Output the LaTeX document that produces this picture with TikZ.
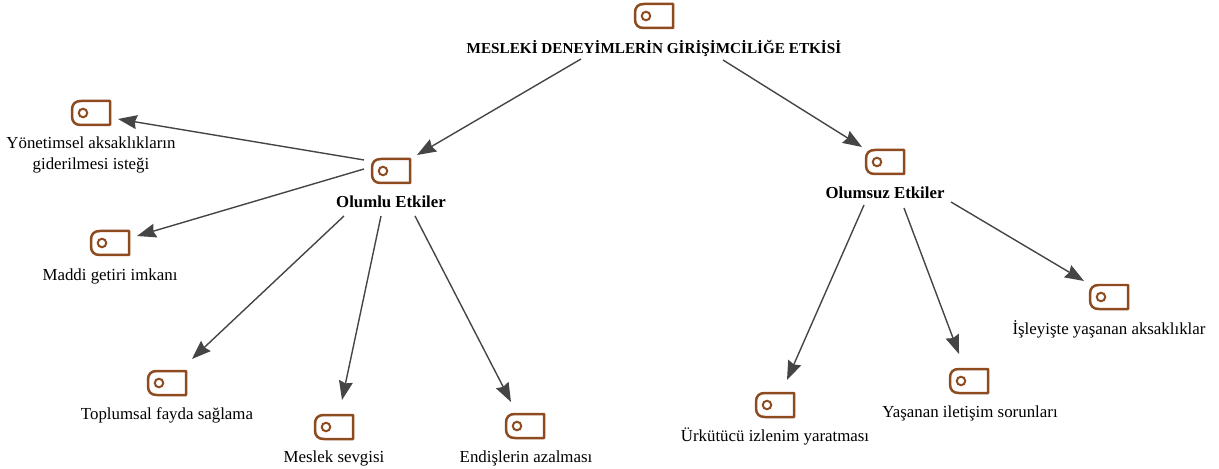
\documentclass[tikz,border=0pt]{standalone}
\usepackage{fontspec}
\setmainfont{Liberation Serif}
\usetikzlibrary{arrows.meta}
\definecolor{tagbrown}{HTML}{8E4B20}
\definecolor{linkgray}{HTML}{454545}

\begin{document}
\begin{tikzpicture}[
						x=0.02cm, y=-0.02cm,
						tagicon/.style={rectangle, minimum width=0.84cm, minimum height=0.56cm, inner sep=0pt,
							path picture={
								\begin{scope}[shift={(path picture bounding box.center)}, tagbrown]
								\draw[line width=0.05cm, line join=round]
									(-10,-12) -- (19,-12) -- (19,12) -- (-10,12)
									.. controls (-16,12) and (-19,9) .. (-19,3) -- (-19,-3)
									.. controls (-19,-9) and (-16,-12) .. (-10,-12) -- cycle;
								\draw[line width=0.04cm] (-8,0) circle (0.085cm);
								\end{scope}
							}},
						nodelabel/.style={rectangle, inner sep=0pt, align=center, font=\fontsize{9.6}{12}\selectfont},
						boldlabel/.style={nodelabel, font=\fontsize{9.55}{12}\selectfont\bfseries},
						rootlabel/.style={nodelabel, font=\fontsize{8.65}{12}\selectfont\bfseries},
						link/.style={draw=linkgray, line width=0.028cm, -{Stealth[length=0.38cm, width=0.28cm, inset=0.04cm]}}
					]
					\useasboundingbox (0,0) rectangle (1219,469);
					\node[tagicon] (root) at (654,16) {};
					\node[rootlabel] (roottext) at (654,48) {MESLEKİ DENEYİMLERİN GİRİŞİMCİLİĞE ETKİSİ};
					\node[tagicon] (olumlu) at (391,171) {};
					\node[boldlabel] (olumlulabel) at (391,202) {Olumlu Etkiler};
					\node[tagicon] (olumsuz) at (885,162) {};
					\node[boldlabel] (olumsuzlabel) at (885,193) {Olumsuz Etkiler};
					\node[tagicon] (yonetim) at (91,113) {};
					\node[nodelabel] (yonetimlabel) at (91,155) {Yönetimsel aksaklıkların\\giderilmesi isteği};
					\node[tagicon] (maddi) at (110,243) {};
					\node[nodelabel] (maddilabel) at (110,276) {Maddi getiri imkanı};
					\node[tagicon] (toplumsal) at (167,383) {};
					\node[nodelabel] (toplumsallabel) at (167,415) {Toplumsal fayda sağlama};
					\node[tagicon] (meslek) at (334,427) {};
					\node[nodelabel] (mesleklabel) at (334,458) {Meslek sevgisi};
					\node[tagicon] (endise) at (525,426) {};
					\node[nodelabel] (endiselabel) at (526,458) {Endişlerin azalması};
					\node[tagicon] (urkutucu) at (775,405) {};
					\node[nodelabel] (urkutuculabel) at (775,436) {Ürkütücü izlenim yaratması};
					\node[tagicon] (iletisim) at (969,381) {};
					\node[nodelabel] (iletisimlabel) at (970,413) {Yaşanan iletişim sorunları};
					\node[tagicon] (isleyis) at (1109,297) {};
					\node[nodelabel] (isleyislabel) at (1109,329) {İşleyişte yaşanan aksaklıklar};
					\begin{scope}[link]
					\draw[link] ([shift={(-73,11)}]roottext.center) -- ([shift={(26,-16)}]olumlu.center);
					\draw[link] ([shift={(69,12)}]roottext.center) -- ([shift={(-23,-15)}]olumsuz.center);
					\draw[link] ([shift={(-27,-11)}]olumlu.center) -- ([shift={(27,6)}]yonetim.center);
					\draw[link] ([shift={(-27,-2)}]olumlu.center) -- ([shift={(27,-7)}]maddi.center);
					\draw[link] ([shift={(-47,14)}]olumlulabel.center) -- ([shift={(25,-24)}]toplumsal.center);
					\draw[link] ([shift={(-10,14)}]olumlulabel.center) -- ([shift={(8,-27)}]meslek.center);
					\draw[link] ([shift={(24,14)}]olumlulabel.center) -- ([shift={(-14,-24)}]endise.center);
					\draw[link] ([shift={(-21,12)}]olumsuzlabel.center) -- ([shift={(12,-25)}]urkutucu.center);
					\draw[link] ([shift={(19,15)}]olumsuzlabel.center) -- ([shift={(-10,-27)}]iletisim.center);
					\draw[link] ([shift={(66,9)}]olumsuzlabel.center) -- ([shift={(-25,-16)}]isleyis.center);
					\end{scope}
					\end{tikzpicture}
\end{document}
